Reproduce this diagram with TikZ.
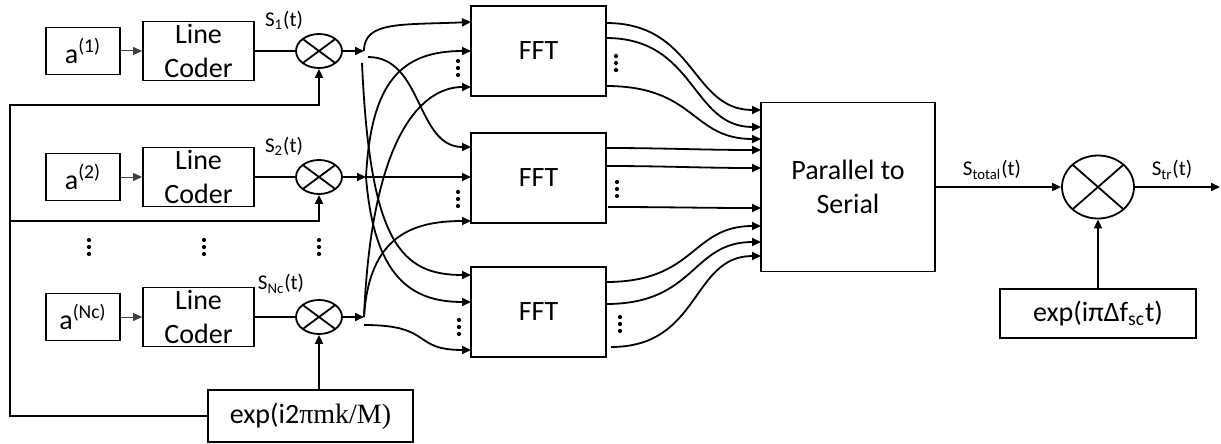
\documentclass[tikz,border=0pt]{standalone}
\usepackage{fontspec}
\setmainfont{Carlito}
\newfontfamily\tnr{Liberation Serif}
\usetikzlibrary{arrows.meta,shapes.geometric}
\newcommand\vd[2]{\foreach \dd in {-7,0,7} {\fill (#1,{#2+\dd}) circle[radius=1.05pt];}}
\begin{document}
\begin{tikzpicture}[x=0.5pt,y=-0.5pt, line width=0.9pt,
 box/.style={draw, line width=0.9pt, inner sep=0pt, align=center, font=\fontsize{14}{17}\selectfont},
 abox/.style={box, minimum width=37pt, minimum height=23.5pt},
 lcbox/.style={box, minimum width=55.5pt, minimum height=29.5pt},
 fftbox/.style={box, minimum width=67.5pt, minimum height=45pt},
 lbl/.style={inner sep=0pt, font=\fontsize{10.5}{12}\selectfont},
 mix/.style={draw, ellipse, line width=0.9pt, inner sep=0pt, minimum width=23pt, minimum height=17pt,
   path picture={\draw[line width=0.9pt] (path picture bounding box.north west) -- (path picture bounding box.south east)
     (path picture bounding box.north east) -- (path picture bounding box.south west);}},
 arr/.style={-{Triangle[length=4.5pt,width=4pt]}},
 thinarr/.style={-{Triangle[length=4.5pt,width=4pt]}, line width=0.5pt, draw=black!75}
]
\useasboundingbox (0,0) rectangle (1221,444);

% left blocks
\node[abox] (a1) at (83,51) {a\textsuperscript{(1)}};
\node[abox] (a2) at (83,177) {a\textsuperscript{(2)}};
\node[abox] (a3) at (83,317) {a\textsuperscript{(Nc)}};
\node[lcbox] (lc1) at (198.5,51) {Line\\Coder};
\node[lcbox] (lc2) at (198.5,177) {Line\\Coder};
\node[lcbox] (lc3) at (198.5,317) {Line\\Coder};
\node[mix] (m1) at (319,51) {};
\node[mix] (m2) at (319,177) {};
\node[mix] (m3) at (319,317) {};
\node[lbl] (s1) at (284,20) {S\textsubscript{1}(t)};
\node[lbl] (s2) at (284,146) {S\textsubscript{2}(t)};
\node[lbl] (s3) at (281,284) {S\textsubscript{Nc}(t)};
\node[box, minimum width=102.5pt, minimum height=26pt] (ex1) at (310.5,416) {exp(i2{\tnr πmk/M)}};

\draw[thinarr] (a1) -- (lc1);
\draw[thinarr] (a2) -- (lc2);
\draw[thinarr] (a3) -- (lc3);
\draw (lc1) -- (m1);
\draw (lc2) -- (m2);
\draw (lc3) -- (m3);

\coordinate (L1) at (10,105);
\coordinate (L2) at (10,221);
\draw[arr] (ex1.west) -| (L1) -| (m1.south);
\draw[arr] (L2) -| (m2.south);
\draw[arr] (ex1.north -| m3.south) -- (m3.south);

\vd{89}{247}
\vd{204}{247}
\vd{319}{247}

% branch points
\coordinate (b1) at (364,51);
\coordinate (b1d) at (368,57);
\coordinate (b1e) at (362,63);
\coordinate (b2) at (366,177);
\coordinate (b3) at (364,317);
\coordinate (b3d) at (364,325);
\draw[arr] (m1.east) -- (b1);
\draw[arr] (m2.east) -- (b2);
\draw[arr] (m3.east) -- (b3);

% FFT blocks
\node[fftbox] (F1) at (538.5,51) {FFT};
\node[fftbox] (F2) at (538.5,178) {FFT};
\node[fftbox] (F3) at (538.5,312) {FFT};

\coordinate (f1i1) at (471,22);
\coordinate (f1i2) at (471,51);
\coordinate (f1i3) at (471,87);
\coordinate (f2i1) at (471,147);
\coordinate (f2i2) at (471,177);
\coordinate (f2i3) at (471,221);
\coordinate (f3i1) at (471,275);
\coordinate (f3i2) at (471,302);
\coordinate (f3i3) at (471,350);

\draw[arr] (b1) .. controls +(0,-30) and +(-70,3) .. (f1i1);
\draw[arr] (b1d) .. controls +(55,0) and +(-55,0) .. (f2i1);
\draw[arr] (b1e) .. controls +(8,180) and +(-70,0) .. (f3i1);
\draw[arr] (b2) .. controls +(5,-95) and +(-70,0) .. (f1i2);
\draw[arr] (b2) -- (f2i2);
\draw[arr] (b2) .. controls +(8,100) and +(-60,0) .. (f3i2);
\draw[arr] (b3) .. controls +(8,-190) and +(-45,0) .. (f1i3);
\draw[arr] (b3) .. controls +(5,-80) and +(-60,0) .. (f2i3);
\draw[arr] (b3d) .. controls +(70,0) and +(-60,0) .. (f3i3);

\vd{458}{68}
\vd{458}{199}
\vd{459}{327}
\vd{616}{63}
\vd{617}{189}
\vd{620}{324}

% parallel to serial
\node[box, minimum width=87pt, minimum height=84.5pt] (ps) at (848,187) {Parallel to\\Serial};

\coordinate (f1o1) at (606,23);
\coordinate (f1o2) at (606,38);
\coordinate (f1o3) at (606,86);
\coordinate (f2o1) at (606,148);
\coordinate (f2o2) at (606,166);
\coordinate (f2o3) at (608,207);
\coordinate (f3o1) at (606,282);
\coordinate (f3o2) at (606,304);
\coordinate (f3o3) at (611,347);

\coordinate (p1) at (761,110);
\coordinate (p2) at (761,127);
\coordinate (p3) at (761,139);
\coordinate (p4) at (761,150);
\coordinate (p5) at (761,168);
\coordinate (p6) at (761,208);
\coordinate (p7) at (761,226);
\coordinate (p8) at (761,242);
\coordinate (p9) at (761,256);

\draw[arr] (f1o1) .. controls +(90,0) and +(-70,0) .. (p1);
\draw[arr] (f1o2) .. controls +(90,0) and +(-70,0) .. (p2);
\draw[arr] (f1o3) .. controls +(90,0) and +(-70,0) .. (p3);
\draw[arr] (f2o1) .. controls +(60,0) and +(-60,0) .. (p4);
\draw[arr] (f2o2) .. controls +(60,0) and +(-60,0) .. (p5);
\draw[arr] (f2o3) .. controls +(60,0) and +(-60,0) .. (p6);
\draw[arr] (f3o1) .. controls +(90,0) and +(-70,0) .. (p7);
\draw[arr] (f3o2) .. controls +(90,0) and +(-70,0) .. (p8);
\draw[arr] (f3o3) .. controls +(90,0) and +(-70,0) .. (p9);

% right side
\node[mix, minimum width=36pt, minimum height=31.5pt] (m4) at (1098,187) {};
\node[box, minimum width=98pt, minimum height=24.5pt] (ex2) at (1098,313.5) {exp(iπΔf\textsubscript{sc}t)};
\node[lbl] (stot) at (992,170) {S\textsubscript{total}(t)};
\node[lbl] (str) at (1172,170) {S\textsubscript{tr}(t)};
\coordinate (out) at (1220,187);
\draw[arr] (ps.east) -- (m4.west);
\draw[arr] (m4.east) -- (out);
\draw[arr] (ex2.north) -- (m4.south);
\end{tikzpicture}
\end{document}
